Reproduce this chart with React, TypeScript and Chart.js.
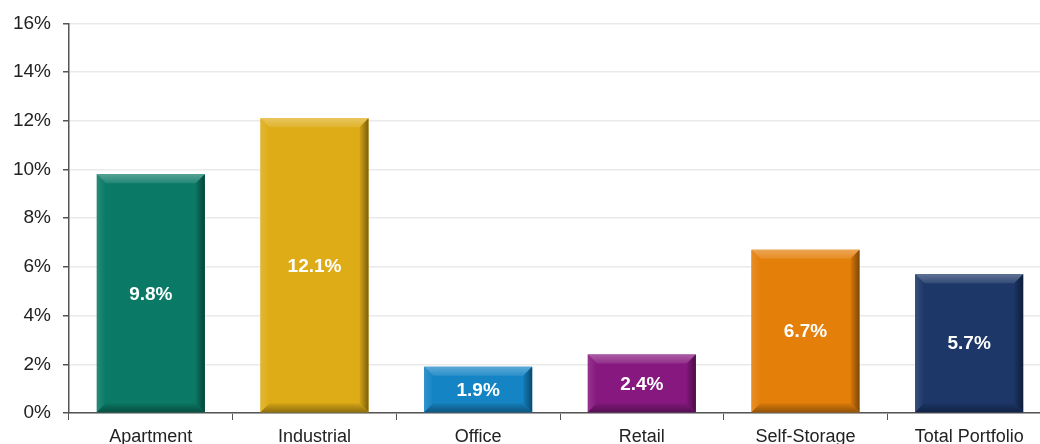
import React, { useEffect, useRef } from "react";
import { Chart, registerables } from "chart.js";

Chart.register(...registerables);

const categories = ["Apartment", "Industrial", "Office", "Retail", "Self-Storage", "Total Portfolio"];
const values = [9.8, 12.1, 1.9, 2.4, 6.7, 5.7];
const barColors = ["#0A7A66", "#DEAC16", "#1584C4", "#86187F", "#E47F0A", "#1C3768"];
const yTicks = [0, 2, 4, 6, 8, 10, 12, 14, 16];

const W = 1052;
const H = 470;

function hexToRgb(h: string) {
  const n = parseInt(h.slice(1), 16);
  return [(n >> 16) & 255, (n >> 8) & 255, n & 255];
}
function shade(h: string, f: number, a = 1) {
  const [r, g, b] = hexToRgb(h);
  const m = (c: number) => Math.round(f >= 0 ? c + (255 - c) * f : c * (1 + f));
  return `rgba(${m(r)},${m(g)},${m(b)},${a})`;
}

const bevelPlugin = {
  id: "bevel",
  afterDatasetsDraw(chart: any) {
    const ctx = chart.ctx;
    const meta = chart.getDatasetMeta(0);
    meta.data.forEach((bar: any, i: number) => {
      const col = barColors[i];
      const w = bar.width;
      const x0 = bar.x - w / 2;
      const x1 = bar.x + w / 2;
      const y0 = bar.y;
      const y1 = bar.base;
      const b = 9;
      ctx.save();
      // top
      let g = ctx.createLinearGradient(0, y0, 0, y0 + b);
      g.addColorStop(0, shade(col, 0.3));
      g.addColorStop(1, shade(col, 0.1));
      ctx.fillStyle = g;
      ctx.beginPath();
      ctx.moveTo(x0, y0);
      ctx.lineTo(x1, y0);
      ctx.lineTo(x1 - b, y0 + b);
      ctx.lineTo(x0 + b, y0 + b);
      ctx.closePath();
      ctx.fill();
      // left
      g = ctx.createLinearGradient(x0, 0, x0 + b, 0);
      g.addColorStop(0, shade(col, 0.12));
      g.addColorStop(1, shade(col, 0.0));
      ctx.fillStyle = g;
      ctx.beginPath();
      ctx.moveTo(x0, y0);
      ctx.lineTo(x0 + b, y0 + b);
      ctx.lineTo(x0 + b, y1 - b);
      ctx.lineTo(x0, y1);
      ctx.closePath();
      ctx.fill();
      // right
      g = ctx.createLinearGradient(x1 - b, 0, x1, 0);
      g.addColorStop(0, shade(col, -0.05));
      g.addColorStop(1, shade(col, -0.45));
      ctx.fillStyle = g;
      ctx.beginPath();
      ctx.moveTo(x1, y0);
      ctx.lineTo(x1, y1);
      ctx.lineTo(x1 - b, y1 - b);
      ctx.lineTo(x1 - b, y0 + b);
      ctx.closePath();
      ctx.fill();
      // bottom
      g = ctx.createLinearGradient(0, y1 - b, 0, y1);
      g.addColorStop(0, shade(col, -0.05));
      g.addColorStop(1, shade(col, -0.35));
      ctx.fillStyle = g;
      ctx.beginPath();
      ctx.moveTo(x0, y1);
      ctx.lineTo(x0 + b, y1 - b);
      ctx.lineTo(x1 - b, y1 - b);
      ctx.lineTo(x1, y1);
      ctx.closePath();
      ctx.fill();
      // label
      ctx.fillStyle = "#FFFFFF";
      ctx.font = "bold 19px 'Liberation Sans', Arial, sans-serif";
      ctx.textAlign = "center";
      ctx.textBaseline = "middle";
      ctx.fillText(values[i].toFixed(1) + "%", bar.x, (y0 + y1) / 2 + 1);
      ctx.restore();
    });
  },
};

export default function App() {
  const ref = useRef<HTMLCanvasElement>(null);
  useEffect(() => {
    document.documentElement.style.overflow = "hidden";
    document.body.style.overflow = "hidden";
    document.body.style.margin = "0";
    const chart = new Chart(ref.current!, {
      type: "bar",
      data: {
        labels: categories,
        datasets: [
          {
            data: values,
            backgroundColor: barColors,
            borderWidth: 0,
            categoryPercentage: 1,
            barPercentage: 0.66,
          },
        ],
      },
      options: {
        animation: false,
        responsive: false,
        devicePixelRatio: 1,
        layout: { padding: { top: 21, right: 1, left: 0, bottom: 0 } },
        plugins: { legend: { display: false }, tooltip: { enabled: false } },
        scales: {
          x: {
            offset: true,
            grid: {
              offset: true,
              drawOnChartArea: false,
              drawTicks: true,
              tickLength: 7,
              color: "#555",
            },
            border: { color: "#555", width: 1.5 },
            ticks: {
              color: "#222",
              font: { family: "'Liberation Sans', Arial, sans-serif", size: 18 },
              padding: 6,
            },
            afterFit: (s: any) => {
              s.height = H - 413;
            },
          },
          y: {
            min: 0,
            max: 16,
            afterBuildTicks: (s: any) => {
              s.ticks = yTicks.map((v) => ({ value: v }));
            },
            grid: {
              color: "#EAEAEA",
              lineWidth: 1.5,
              drawTicks: true,
              tickLength: 6,
              tickColor: "#555",
            },
            border: { color: "#555", width: 1.5 },
            ticks: {
              color: "#222",
              font: { family: "'Liberation Sans', Arial, sans-serif", size: 19 },
              padding: 12,
              callback: (v: any) => v + "%",
            },
            afterFit: (s: any) => {
              s.width = 69;
            },
          },
        },
      },
      plugins: [bevelPlugin],
    });
    return () => chart.destroy();
  }, []);
  return (
    <div style={{ position: "fixed", left: 0, top: 0, width: W, height: H }}>
      <canvas ref={ref} width={W} height={H} style={{ width: W, height: H, display: "block" }} />
    </div>
  );
}
